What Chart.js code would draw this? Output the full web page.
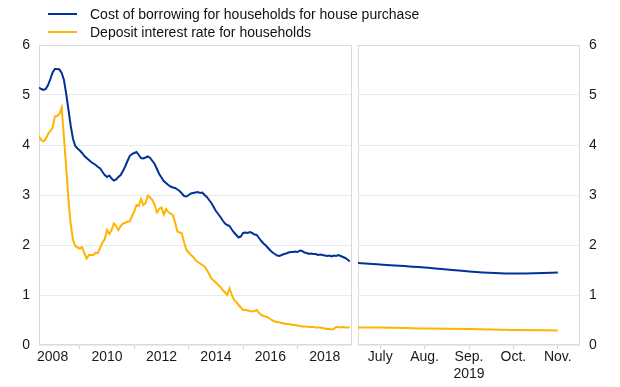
<!DOCTYPE html>
<html><head><meta charset="utf-8">
<script src="https://cdn.jsdelivr.net/npm/chart.js@4"></script>
<style>
html,body{margin:0;padding:0;background:#fff;}
#wrap{position:relative;width:620px;height:387px;font-family:"Liberation Sans",Arial,sans-serif;overflow:hidden;}
canvas{position:absolute;top:0;}
.leg{position:absolute;left:48px;height:18px;line-height:18px;font-size:14px;color:#111;display:flex;align-items:center;white-space:nowrap;}
.leg i{display:inline-block;width:29px;height:2px;margin-right:13px;}
</style></head><body>
<div id="wrap">
<canvas id="c1" width="356" height="387" style="left:0"></canvas>
<canvas id="c2" width="266" height="387" style="left:354px"></canvas>
<div class="leg" style="top:5px"><i style="background:#003299"></i><span id="l1"></span></div>
<div class="leg" style="top:23px"><i style="background:#ffb400"></i><span id="l2"></span></div>
</div>
<script>
// ---------- data ----------
const seriesNames = ['Cost of borrowing for households for house purchase', 'Deposit interest rate for households'];
const startYear = 2008; // monthly data Jan 2008 - Jun 2019
const borrowing = [
 5.15,5.12,5.10,5.12,5.20,5.32,5.45,5.52,5.52,5.51,5.44,5.30,
 5.02,4.70,4.38,4.12,3.98,3.93,3.89,3.84,3.78,3.74,3.70,3.66,
 3.63,3.60,3.56,3.53,3.46,3.40,3.36,3.39,3.33,3.29,3.31,3.36,
 3.40,3.48,3.57,3.68,3.78,3.82,3.84,3.86,3.80,3.74,3.73,3.75,
 3.77,3.74,3.68,3.62,3.52,3.42,3.35,3.28,3.24,3.20,3.17,3.15,
 3.14,3.11,3.08,3.03,2.98,2.97,3.00,3.03,3.04,3.05,3.06,3.04,
 3.05,3.00,2.96,2.90,2.84,2.76,2.68,2.62,2.56,2.49,2.43,2.40,
 2.38,2.31,2.25,2.20,2.15,2.17,2.24,2.25,2.24,2.26,2.24,2.21,
 2.20,2.14,2.08,2.03,1.99,1.94,1.89,1.85,1.82,1.79,1.78,1.80,
 1.82,1.83,1.85,1.86,1.86,1.87,1.86,1.89,1.88,1.85,1.84,1.82,
 1.83,1.82,1.82,1.80,1.81,1.80,1.79,1.78,1.79,1.77,1.79,1.78,
 1.80,1.78,1.76,1.74,1.71,1.67
];
const deposit = [
 4.17,4.10,4.07,4.12,4.22,4.28,4.35,4.57,4.58,4.62,4.75,4.15,
 3.55,2.90,2.40,2.10,1.98,1.95,1.93,1.96,1.83,1.73,1.80,1.80,
 1.80,1.85,1.84,1.95,2.05,2.12,2.30,2.22,2.30,2.43,2.38,2.30,
 2.38,2.43,2.44,2.47,2.47,2.58,2.67,2.80,2.78,2.92,2.80,2.84,
 2.99,2.95,2.90,2.80,2.65,2.72,2.75,2.61,2.72,2.66,2.63,2.60,
 2.45,2.27,2.25,2.23,2.05,1.90,1.85,1.80,1.76,1.70,1.66,1.63,
 1.60,1.57,1.50,1.42,1.33,1.29,1.25,1.20,1.16,1.10,1.05,1.00,
 1.13,1.00,0.90,0.86,0.80,0.75,0.70,0.70,0.69,0.68,0.67,0.68,
 0.70,0.64,0.60,0.58,0.57,0.55,0.52,0.49,0.47,0.46,0.45,0.44,
 0.43,0.42,0.42,0.41,0.40,0.40,0.39,0.38,0.37,0.37,0.37,0.36,
 0.36,0.36,0.35,0.35,0.35,0.34,0.33,0.32,0.32,0.31,0.32,0.36,
 0.36,0.35,0.36,0.35,0.35,0.35
];
const yearTicks = [2008,2009,2010,2011,2012,2013,2014,2015,2016,2017,2018];
const rightLabels = ['July','Aug.','Sep.','Oct.','Nov.'];
const rightYearLabel = '2019';
const rightX = [0.5,1,2,3,4,5];           // month positions (0.5 = start of panel)
const rightBorrowing = [1.64,1.61,1.55,1.47,1.43,1.45];
const rightDeposit   = [0.35,0.35,0.33,0.32,0.30,0.29];
const yTicks = [0,1,2,3,4,5,6];

// ---------- styles ----------
const BLUE = '#003299', YELLOW = '#ffb400';
const FONT = {family:'"Liberation Sans", Arial, sans-serif', size:14};
const TXT = '#1a1a1a', GRID = '#ebebeb', BOX = '#dadada';
document.getElementById('l1').textContent = seriesNames[0];
document.getElementById('l2').textContent = seriesNames[1];

const boxPlugin = {id:'box', beforeDatasetsDraw(chart){
  const {ctx, chartArea:a} = chart;
  ctx.save(); ctx.strokeStyle = BOX; ctx.lineWidth = 1;
  ctx.strokeRect(Math.round(a.left)+0.5, Math.round(a.top)+0.5, Math.round(a.right-a.left)-1, Math.round(a.bottom-a.top)-1);
  ctx.restore();
}};

const yScale = (pos) => ({
  position: pos, min:0, max:6,
  afterBuildTicks: s => { s.ticks = yTicks.map(v => ({value:v})); },
  ticks:{font:FONT, color:TXT, padding:9},
  grid:{color:GRID, drawTicks:false},
  border:{display:false},
  afterFit: s => { s.width = pos === 'left' ? 39 : 40; }
});

const toXY = (xs, ys) => ys.map((v,i) => ({x: xs[i], y: v}));
const monthX = borrowing.map((_, i) => startYear + i/12);

new Chart(document.getElementById('c1'), {
  type:'line',
  data:{datasets:[
    {label:seriesNames[0], data:toXY(monthX, borrowing), borderColor:BLUE, backgroundColor:BLUE, borderWidth:2, pointRadius:0, tension:0},
    {label:seriesNames[1], data:toXY(monthX, deposit), borderColor:YELLOW, backgroundColor:YELLOW, borderWidth:2, pointRadius:0, tension:0}
  ]},
  options:{
    responsive:false, animation:false, events:[],
    layout:{padding:{top:45, right:4, left:0, bottom:0}},
    plugins:{legend:{display:false}, tooltip:{enabled:false}},
    scales:{
      x:{type:'linear', min:startYear, max:2019.5,
        afterBuildTicks: s => { s.ticks = yearTicks.map(y => ({value:y+0.5})); },
        ticks:{font:FONT, color:TXT, padding:0, autoSkip:false, maxRotation:0,
          callback: v => { const y = Math.round(v-0.5); return y % 2 === 0 ? String(y) : ''; }},
        grid:{drawOnChartArea:false, tickLength:4,
          tickColor: c => (c.tick && Math.round(c.tick.value-0.5) % 2 === 1) ? '#cfcfcf' : 'rgba(0,0,0,0)'},
        border:{display:false},
        afterFit: s => { s.height = 42; }
      },
      y: yScale('left')
    }
  },
  plugins:[boxPlugin]
});

new Chart(document.getElementById('c2'), {
  type:'line',
  data:{datasets:[
    {label:seriesNames[0], data:toXY(rightX, rightBorrowing), borderColor:BLUE, borderWidth:2, pointRadius:0, tension:0.4, cubicInterpolationMode:'monotone'},
    {label:seriesNames[1], data:toXY(rightX, rightDeposit), borderColor:YELLOW, borderWidth:2, pointRadius:0, tension:0.4, cubicInterpolationMode:'monotone'}
  ]},
  options:{
    responsive:false, animation:false, events:[],
    layout:{padding:{top:45, right:0, left:4, bottom:0}},
    plugins:{legend:{display:false}, tooltip:{enabled:false}},
    scales:{
      x:{type:'linear', min:0.5, max:5.5,
        afterBuildTicks: s => { s.ticks = rightLabels.map((_, i) => ({value:i+1})); },
        ticks:{font:FONT, color:TXT, padding:0, autoSkip:false, maxRotation:0,
          callback: v => { const i = Math.round(v)-1; return i === 2 ? [rightLabels[i], rightYearLabel] : rightLabels[i]; }},
        grid:{drawOnChartArea:false, tickLength:4, tickColor:'#cfcfcf'},
        border:{display:false},
        afterFit: s => { s.height = 42; }
      },
      y: yScale('right')
    }
  },
  plugins:[boxPlugin]
});
</script>
</body></html>
